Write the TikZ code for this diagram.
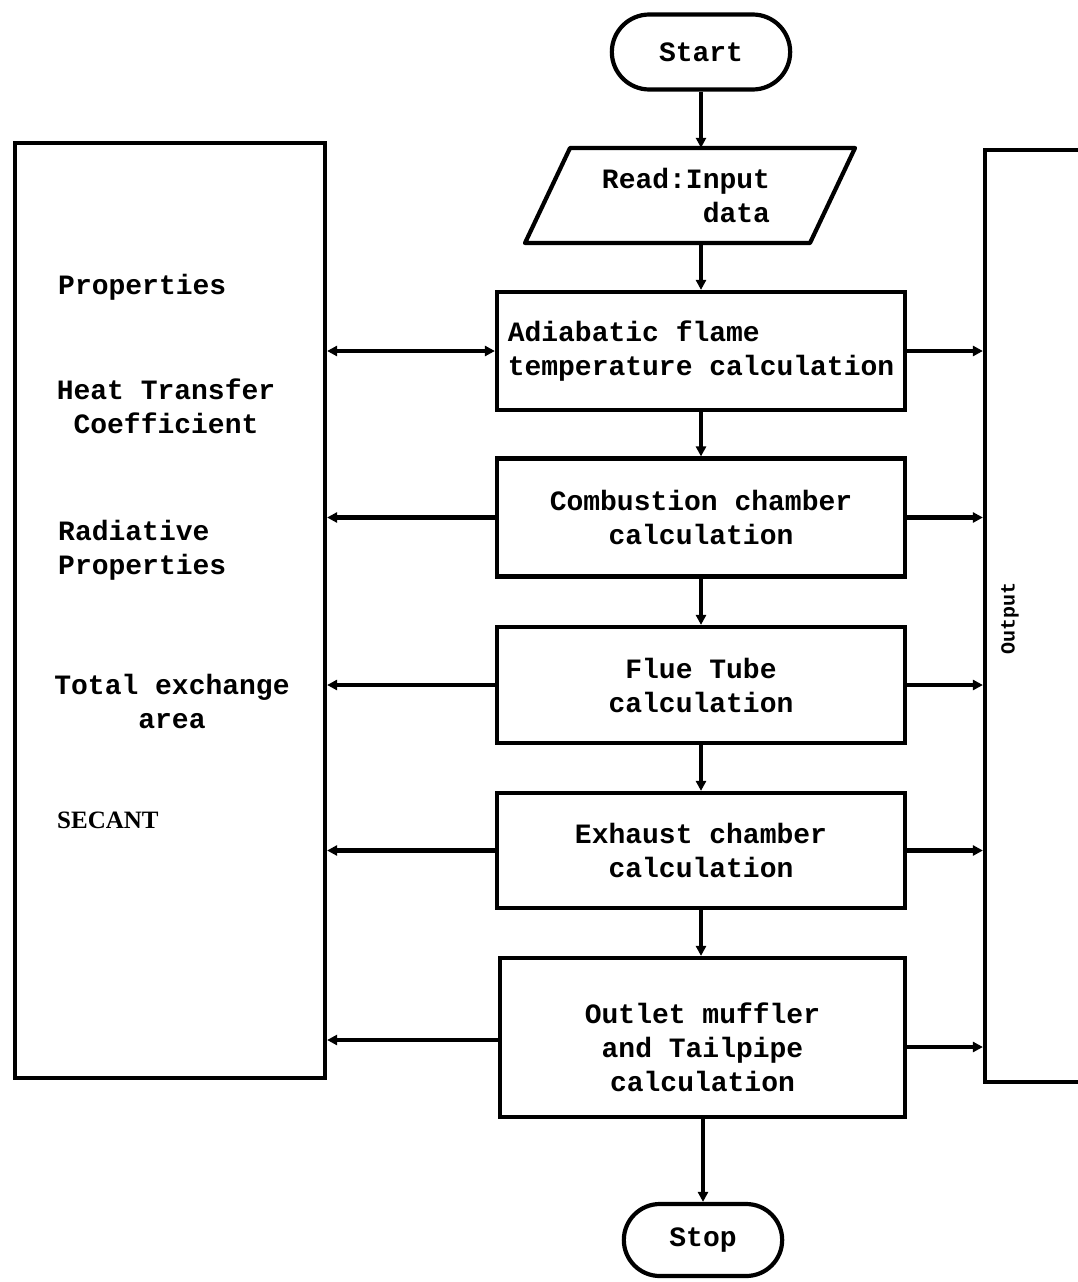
\documentclass[tikz,border=0pt]{standalone}
\usepackage{fontspec}
\setmonofont{Liberation Mono}
\newfontfamily\secfont{Liberation Serif}
\usetikzlibrary{shapes.misc,arrows.meta}
\begin{document}
\begin{tikzpicture}[x=1pt,y=-1pt,
  every node/.style={font=\fontsize{28}{34}\selectfont\ttfamily\bfseries},
  ln/.style={line width=4.2pt},
  proc/.style={draw,ln,rectangle,minimum width=408pt,minimum height=118pt,align=center,inner sep=4pt},
  term/.style={draw,ln,rounded rectangle,minimum width=185pt,minimum height=75pt},
  lbl/.style={inner sep=0pt,align=center},
  arr/.style={ln,-{Triangle[length=10pt,width=10pt]}},
  darr/.style={ln,{Triangle[length=10pt,width=10pt]}-{Triangle[length=10pt,width=10pt]}},
]
\fill[white] (0,0) rectangle (1078,1282);
\clip (0,0) rectangle (1078,1282);

% terminals and input
\node[term] (start) at (701,52) {Start};
\draw[ln,line join=round] (570,148) -- (855,148) -- (810,243) -- (525,243) -- cycle;
\node[inner sep=0pt,minimum height=95pt,align=right] (read) at (686,195.5) {Read:Input\\data};

% process boxes
\node[proc,align=left] (adi) at (701,351) {Adiabatic flame\\temperature calculation};
\node[proc] (comb) at (701,517.5) {Combustion chamber\\calculation};
\node[proc,minimum height=116pt] (flue) at (701,685) {Flue Tube\\calculation};
\node[proc,minimum height=115pt] (exh) at (701,850.5) {Exhaust chamber\\calculation};
\node[proc,minimum width=405pt,minimum height=159pt] (outl) at (702.5,1037.5) {\rule{0pt}{40pt}Outlet muffler\\and Tailpipe\\calculation};
\node[term,minimum width=165pt,minimum height=72pt] (stop) at (703,1240) {Stop};

% side boxes
\node[draw,ln,minimum width=310pt,minimum height=935pt,inner sep=0pt] (lbox) at (170,610.5) {};
\node[draw,ln,minimum width=130pt,minimum height=932pt,inner sep=0pt] (rbox) at (1050,616) {};
\node[rotate=90,font=\fontsize{20}{24}\selectfont\ttfamily\bfseries] (outlbl) at (1010,618) {Output};

% left labels
\node[lbl,anchor=west] (p1) at (58,287) {Properties};
\node[lbl] (p2) at (166,406) {Heat Transfer\\Coefficient};
\node[lbl,anchor=west,align=left] (p3) at (58,550) {Radiative\\Properties};
\node[lbl] (p4) at (172,701) {Total exchange\\area};
\node[lbl,anchor=west,font=\secfont\bfseries\fontsize{25}{30}\selectfont] (p5) at (57,820) {SECANT};

% main flow
\draw[arr] (start.south) -- (start.south |- read.north);
\draw[arr] (adi.north |- read.south) -- (adi.north);
\draw[arr] (adi.south) -- (comb.north);
\draw[arr] (comb.south) -- (flue.north);
\draw[arr] (flue.south) -- (exh.north);
\draw[arr] (exh.south) -- (exh.south |- outl.north);
\draw[arr] (outl.south -| stop.north) -- (stop.north);

% side connectors
\draw[darr] (adi.west) -- (adi.west -| lbox.east);
\draw[arr] (adi.east) -- (adi.east -| rbox.west);
\foreach \n in {comb,flue,exh}{
  \draw[arr] (\n.west) -- (\n.west -| lbox.east);
  \draw[arr] (\n.east) -- (\n.east -| rbox.west);
}
\draw[arr] ([yshift=-2.5pt]outl.west) -- ([yshift=-2.5pt]outl.west -| lbox.east);
\draw[arr] ([yshift=-9.5pt]outl.east) -- ([yshift=-9.5pt]outl.east -| rbox.west);
\end{tikzpicture}
\end{document}
